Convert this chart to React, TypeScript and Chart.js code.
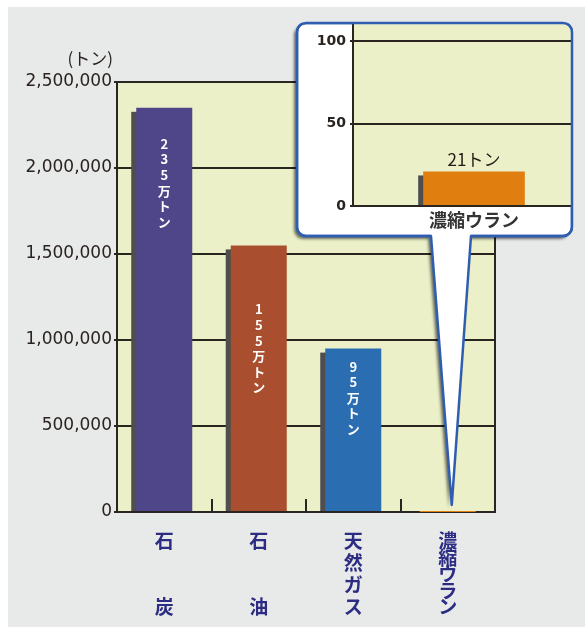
import React, { useEffect, useRef } from 'react';
import { Chart, registerables } from 'chart.js';

Chart.register(...registerables);

// ---- data ----
const categories = ['石炭', '石油', '天然ガス', '濃縮ウラン'];
const amountsTon = [2350000, 1550000, 950000, 21];
const barLabels = ['235万トン', '155万トン', '95万トン', ''];
const barColors = ['#4f4689', '#a94f2f', '#2b6db1', '#e07f10'];
const mainTicks = [0, 500000, 1000000, 1500000, 2000000, 2500000];
const unitLabel = '(トン)';

const insetCategories = ['濃縮ウラン'];
const insetAmounts = [21];
const insetBarLabels = ['21トン'];
const insetColors = ['#e07f10'];
const insetTicks = [0, 50, 100];

// ---- styles ----
const PANEL = '#e8e9e9';
const PLOT_BG = '#ebf0c8';
const GRID = '#2b2522';
const NAVY = '#2b2c82';
const BLUE = '#2f5eb0';
const SHADOW = '#4e4e4e';
const JP = '"Noto Sans CJK JP", "Noto Sans", sans-serif';
const labelTopOffsets = [36, 64, 18, 0];

// box geometry (page coordinates)
const BOX = { left: 297, top: 23, right: 572, bottom: 236, r: 9 };
const TAIL = { left: 431, right: 471 };
const MAIN_ORIGIN = { x: 8, y: 7 };
const INSET_ORIGIN = { x: 296, y: 23 };

function boxWithTail(ctx: CanvasRenderingContext2D, ox: number, oy: number, tip: { x: number; y: number }) {
  const L = BOX.left - ox, T = BOX.top - oy, R = BOX.right - ox, B = BOX.bottom - oy, r = BOX.r;
  const tl = TAIL.left - ox, tr = TAIL.right - ox;
  ctx.beginPath();
  ctx.moveTo(L + r, T);
  ctx.lineTo(R - r, T); ctx.arcTo(R, T, R, T + r, r);
  ctx.lineTo(R, B - r); ctx.arcTo(R, B, R - r, B, r);
  ctx.lineTo(tr, B); ctx.lineTo(tip.x, tip.y); ctx.lineTo(tl, B);
  ctx.lineTo(L + r, B); ctx.arcTo(L, B, L, B - r, r);
  ctx.lineTo(L, T + r); ctx.arcTo(L, T, L + r, T, r);
  ctx.closePath();
}

function boxOutlineOpen(ctx: CanvasRenderingContext2D, ox: number, oy: number) {
  const L = BOX.left - ox, T = BOX.top - oy, R = BOX.right - ox, B = BOX.bottom - oy, r = BOX.r;
  const tl = TAIL.left - ox, tr = TAIL.right - ox;
  ctx.beginPath();
  ctx.moveTo(tr, B);
  ctx.lineTo(R - r, B); ctx.arcTo(R, B, R, B - r, r);
  ctx.lineTo(R, T + r); ctx.arcTo(R, T, R - r, T, r);
  ctx.lineTo(L + r, T); ctx.arcTo(L, T, L, T + r, r);
  ctx.lineTo(L, B - r); ctx.arcTo(L, B, L + r, B, r);
  ctx.lineTo(tl, B);
}

const barShadowPlugin = {
  id: 'barShadow',
  beforeDatasetsDraw(chart: any) {
    const ctx = chart.ctx;
    const meta = chart.getDatasetMeta(0);
    ctx.save();
    ctx.fillStyle = SHADOW;
    meta.data.forEach((el: any) => {
      const { x, y, base, width } = el.getProps(['x', 'y', 'base', 'width'], true);
      if (base - y < 2) return;
      ctx.fillRect(x - width / 2 - 5, y + 4, width, base - y - 4);
    });
    ctx.restore();
  },
};

const plotBgPlugin = {
  id: 'plotBg',
  beforeDraw(chart: any) {
    const { ctx, chartArea } = chart;
    ctx.save();
    ctx.fillStyle = PLOT_BG;
    ctx.fillRect(chartArea.left, chartArea.top, chartArea.right - chartArea.left, chartArea.bottom - chartArea.top);
    ctx.restore();
  },
};

const mainDecorPlugin = {
  id: 'mainDecor',
  afterDatasetsDraw(chart: any) {
    const { ctx, chartArea } = chart;
    const xs = chart.scales.x;
    ctx.save();
    ctx.strokeStyle = GRID;
    ctx.lineWidth = 2;
    for (let i = 1; i < categories.length; i++) {
      const bx = Math.round((xs.getPixelForValue(i - 1) + xs.getPixelForValue(i)) / 2);
      ctx.beginPath();
      ctx.moveTo(bx, chartArea.bottom);
      ctx.lineTo(bx, chartArea.bottom - 13);
      ctx.stroke();
    }
    ctx.beginPath();
    ctx.moveTo(chartArea.right, chartArea.top - 1);
    ctx.lineTo(chartArea.right, chartArea.bottom + 1);
    ctx.stroke();

    const meta = chart.getDatasetMeta(0);
    ctx.fillStyle = '#ffffff';
    ctx.font = `bold 13px ${JP}`;
    ctx.textAlign = 'center';
    ctx.textBaseline = 'middle';
    meta.data.forEach((el: any, i: number) => {
      const text = barLabels[i];
      if (!text) return;
      const { x, y } = el.getProps(['x', 'y'], true);
      Array.from(text).forEach((ch, k) => {
        ctx.fillText(ch, x, y + labelTopOffsets[i] + k * 15.6);
      });
    });
    ctx.restore();
  },
  afterDraw(chart: any) {
    const { ctx, chartArea } = chart;
    const xs = chart.scales.x;
    ctx.save();
    ctx.fillStyle = '#2a2420';
    ctx.font = `17px ${JP}`;
    ctx.textAlign = 'right';
    ctx.textBaseline = 'middle';
    ctx.fillText(unitLabel, 105, 52);

    ctx.fillStyle = NAVY;
    ctx.font = `bold 19px ${JP}`;
    ctx.textAlign = 'center';
    categories.forEach((cat, i) => {
      const chars = Array.from(cat);
      const x = xs.getPixelForValue(i);
      const y0 = chartArea.bottom + 29;
      const y1 = chartArea.bottom + 95;
      chars.forEach((ch, k) => {
        const y = chars.length > 1 ? y0 + (k * (y1 - y0)) / (chars.length - 1) : y0;
        ctx.fillText(ch, x, y);
      });
    });

    const tip = {
      x: xs.getPixelForValue(categories.length - 1) + 4,
      y: chartArea.bottom - 7,
    };
    ctx.save();
    ctx.shadowColor = 'rgba(0,0,0,0.55)';
    ctx.shadowOffsetX = -3;
    ctx.shadowOffsetY = 3;
    ctx.shadowBlur = 3;
    boxWithTail(ctx, MAIN_ORIGIN.x, MAIN_ORIGIN.y, tip);
    ctx.fillStyle = '#ffffff';
    ctx.fill();
    ctx.restore();
    boxWithTail(ctx, MAIN_ORIGIN.x, MAIN_ORIGIN.y, tip);
    ctx.strokeStyle = BLUE;
    ctx.lineWidth = 2.5;
    ctx.lineJoin = 'round';
    ctx.stroke();
    ctx.restore();
  },
};

const insetBgPlugin = {
  id: 'insetBg',
  beforeDraw(chart: any) {
    const { ctx, chartArea } = chart;
    const ox = INSET_ORIGIN.x, oy = INSET_ORIGIN.y;
    ctx.save();
    ctx.beginPath();
    ctx.roundRect(BOX.left - ox, BOX.top - oy, BOX.right - BOX.left, BOX.bottom - BOX.top, BOX.r);
    ctx.clip();
    ctx.fillStyle = PLOT_BG;
    ctx.fillRect(chartArea.left, chartArea.top - 3, chartArea.right - chartArea.left, chartArea.bottom - chartArea.top + 3);
    ctx.restore();
  },
  afterDatasetsDraw(chart: any) {
    const ctx = chart.ctx;
    const meta = chart.getDatasetMeta(0);
    ctx.save();
    ctx.fillStyle = '#231815';
    ctx.font = `17px ${JP}`;
    ctx.textAlign = 'center';
    ctx.textBaseline = 'middle';
    meta.data.forEach((el: any, i: number) => {
      const { x, y } = el.getProps(['x', 'y'], true);
      ctx.fillText(insetBarLabels[i], x, y - 12);
    });
    ctx.restore();
  },
  afterDraw(chart: any) {
    const ctx = chart.ctx;
    ctx.save();
    boxOutlineOpen(ctx, INSET_ORIGIN.x, INSET_ORIGIN.y);
    ctx.strokeStyle = BLUE;
    ctx.lineWidth = 2.5;
    ctx.stroke();
    ctx.restore();
  },
};

const noScalePadding = (s: any) => {
  s.paddingTop = 0;
  s.paddingBottom = 0;
};

export default function App() {
  const mainRef = useRef<HTMLCanvasElement>(null);
  const insetRef = useRef<HTMLCanvasElement>(null);

  useEffect(() => {
    if (!mainRef.current || !insetRef.current) return;
    const main = new Chart(mainRef.current, {
      type: 'bar',
      data: {
        labels: categories,
        datasets: [
          {
            data: amountsTon,
            backgroundColor: barColors,
            borderWidth: 0,
            categoryPercentage: 1,
            barPercentage: 0.593,
          },
        ],
      },
      options: {
        animation: false,
        responsive: false,
        maintainAspectRatio: false,
        devicePixelRatio: 1,
        layout: { padding: { top: 75, right: 90, left: 0, bottom: 0 } },
        plugins: { legend: { display: false }, tooltip: { enabled: false } },
        scales: {
          x: {
            type: 'category',
            offset: true,
            grid: { display: false },
            border: { display: true, color: GRID, width: 2 },
            ticks: { display: false },
            afterFit: (s: any) => { s.height = 115; },
          },
          y: {
            min: 0,
            max: 2500000,
            afterBuildTicks: (s: any) => { s.ticks = mainTicks.map((v) => ({ value: v })); },
            ticks: {
              callback: (v: any) => Number(v).toLocaleString('en-US'),
              font: { family: 'DejaVu Sans', size: 17 },
              color: '#2a2420',
              padding: 2,
            },
            grid: { color: GRID, lineWidth: 2, tickLength: 3 },
            border: { display: true, color: GRID, width: 2 },
            afterFit: (s: any) => { s.width = 109; noScalePadding(s); },
          },
        },
      } as any,
      plugins: [plotBgPlugin, barShadowPlugin, mainDecorPlugin],
    });

    const inset = new Chart(insetRef.current, {
      type: 'bar',
      data: {
        labels: insetCategories,
        datasets: [
          {
            data: insetAmounts,
            backgroundColor: insetColors,
            borderWidth: 0,
            categoryPercentage: 1,
            barPercentage: 0.42,
          },
        ],
      },
      options: {
        animation: false,
        responsive: false,
        maintainAspectRatio: false,
        devicePixelRatio: 1,
        layout: { padding: { top: 2, right: 0, left: 0, bottom: 0 } },
        plugins: { legend: { display: false }, tooltip: { enabled: false } },
        scales: {
          x: {
            type: 'category',
            offset: true,
            grid: { display: false, drawTicks: false },
            border: { display: true, color: GRID, width: 2 },
            ticks: { font: { family: JP, size: 18, weight: 'bold' }, color: '#333333', padding: 3 },
            afterFit: (s: any) => { s.height = 33; s.paddingLeft = 0; s.paddingRight = 0; },
          },
          y: {
            min: 0,
            max: 110,
            afterBuildTicks: (s: any) => { s.ticks = insetTicks.map((v) => ({ value: v })); },
            ticks: { font: { family: 'DejaVu Sans', size: 14, weight: 'bold' }, color: '#2a2420', padding: 4 },
            grid: { color: GRID, lineWidth: 2, tickLength: 3 },
            border: { display: true, color: GRID, width: 2 },
            afterFit: (s: any) => { s.width = 57; noScalePadding(s); },
          },
        },
      } as any,
      plugins: [insetBgPlugin, barShadowPlugin],
    });

    return () => {
      main.destroy();
      inset.destroy();
    };
  }, []);

  return (
    <div
      style={{
        position: 'absolute',
        left: 8,
        top: 7,
        width: 577,
        height: 620,
        background: PANEL,
        overflow: 'hidden',
      }}
    >
      <canvas
        ref={mainRef}
        width={577}
        height={620}
        style={{ position: 'absolute', left: 0, top: 0, width: 577, height: 620 }}
      />
      <div style={{ position: 'absolute', left: 288, top: 16, width: 277, height: 216, overflow: 'hidden' }}>
        <canvas
          ref={insetRef}
          width={299}
          height={216}
          style={{ position: 'absolute', left: 0, top: 0, width: 299, height: 216 }}
        />
      </div>
    </div>
  );
}
